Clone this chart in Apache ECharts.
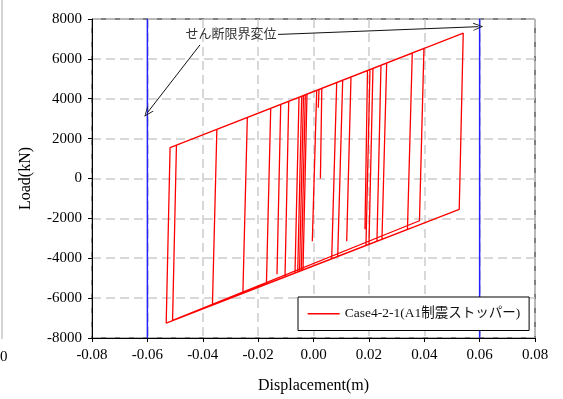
<!DOCTYPE html>
<html>
<head>
<meta charset="utf-8">
<script src="https://cdn.jsdelivr.net/npm/echarts@6/dist/echarts.min.js"></script>
<style>html,body{margin:0;padding:0;background:#fff}#c{width:563px;height:399px}</style>
</head>
<body>
<div id="c"></div>
<script>
// Hysteresis path (displacement m, load kN)
const dispX = [
  -0.00668, -0.00523, 0.00116, -0.00043, 0.00116, 0.00199, 0.00173, 0.00199, 0.00838, 0.00657,
  -0.00570, -0.00426, 0.01054, 0.00874, -0.00505, -0.00361, 0.00838, 0.00657, -0.01029, -0.00895,
  0.02437, 0.02292, -0.0255, -0.0239, 0.05408, 0.05264, -0.0532, -0.0518, 0.03989, 0.03827,
  -0.0509, -0.0495, 0.03567, 0.03394, -0.0365, -0.0349, 0.02643, 0.02473, -0.0170, -0.01545,
  -0.01184, -0.01318, -0.01184, 0.0195, 0.0186, 0.0195, 0.02148, 0.02004, -0.00379, -0.00235,
  0.01354, 0.01199, 0.01354, 0.0204, 0.01895, -0.0044, -0.00296, 0.0030, 0.0025
];
const loadY = [
  -4740, 4075, 4422, -3150, 4422, 4467, 3550, 4467, 4813, -4027,
  -4689, 4128, 4930, -3910, -4653, 4163, 4813, -4027, -4935, 3873,
  5680, -3146, -5750, 3060, 7292, -1545, -7250, 1550, 6522, -2120,
  -7120, 1680, 6293, -2553, -6350, 2460, 5792, -3049, -5296, 3521,
  3717, -4800, 3717, 5416, -2550, 5416, 5524, -3301, -4585, 4232,
  5093, -3150, 5093, 5465, -3360, -4618, 4199, 4522, 0
];
const limitDisp = [-0.06, 0.06];
const limitLoadRange = [-8000, 8000];
const xTicks = { min: -0.08, max: 0.08, interval: 0.02 };
const yTicks = { min: -8000, max: 8000, interval: 2000 };
const seriesName = 'Case4-2-1(A1制震ストッパー)';
const noteText = 'せん断限界変位';
const notePos = [-0.0298, 7200];
const arrowLeft = [[-0.041, 6700], [-0.06, 3300]];
const arrowRight = [[-0.0128, 7225], [0.0595, 7615]];

const serif = "'Liberation Serif','Times New Roman','Noto Sans CJK JP',serif";
const chevron = 'path://M5,0 L10,10 L9,10 L5,2 L1,10 L0,10 Z';

const chart = echarts.init(document.getElementById('c'), null, { renderer: 'canvas' });
const hyst = dispX.map((x, i) => [x, loadY[i]]);

chart.setOption({
  animation: false,
  backgroundColor: '#fff',
  grid: { left: 92, top: 19, width: 443, height: 320, show: true, borderColor: '#000', borderWidth: 1, backgroundColor: 'transparent' },
  xAxis: {
    type: 'value', min: xTicks.min, max: xTicks.max, interval: xTicks.interval,
    name: 'Displacement(m)', nameLocation: 'middle', nameGap: 40,
    nameTextStyle: { fontFamily: serif, fontSize: 16, color: '#000' },
    axisLine: { show: true, onZero: false, lineStyle: { color: '#000', width: 1 } },
    axisTick: { show: true, length: 4, lineStyle: { color: '#000' } },
    axisLabel: { margin: 10, fontFamily: serif, fontSize: 15, color: '#000', formatter: v => v.toFixed(2) },
    splitLine: { show: true, lineStyle: { color: '#cccccc', width: 1.5, type: [9, 5] } }
  },
  yAxis: {
    type: 'value', min: yTicks.min, max: yTicks.max, interval: yTicks.interval,
    name: 'Load(kN)', nameLocation: 'middle', nameGap: 58,
    nameTextStyle: { fontFamily: serif, fontSize: 16, color: '#000' },
    axisLine: { show: true, onZero: false, lineStyle: { color: '#000', width: 1 } },
    axisTick: { show: true, length: 4, lineStyle: { color: '#000' } },
    axisLabel: { margin: 10, fontFamily: serif, fontSize: 15, color: '#000', formatter: v => String(Math.round(v)) },
    splitLine: { show: true, lineStyle: { color: '#cccccc', width: 1.5, type: [9, 5] } }
  },
  legend: {
    data: [seriesName], left: 298, top: 297, orient: 'horizontal',
    padding: [10, 9], itemWidth: 32, itemHeight: 14, itemGap: 8,
    backgroundColor: '#fff', borderColor: '#000', borderWidth: 1,
    itemStyle: { opacity: 0 },
    lineStyle: { color: '#ff0000', width: 1.3, opacity: 1 },
    textStyle: { fontFamily: serif, fontSize: 13.5, color: '#111' }
  },
  series: [
    {
      name: 'limitL', type: 'line', symbol: 'none', silent: true, z: 3,
      data: [[limitDisp[0], limitLoadRange[0]], [limitDisp[0], limitLoadRange[1]]],
      lineStyle: { color: '#2222ff', width: 1.5 }
    },
    {
      name: 'limitR', type: 'line', symbol: 'none', silent: true, z: 3,
      data: [[limitDisp[1], limitLoadRange[0]], [limitDisp[1], limitLoadRange[1]]],
      lineStyle: { color: '#2222ff', width: 1.5 }
    },
    {
      name: seriesName, type: 'line', symbol: 'none', showSymbol: false, z: 4,
      data: hyst, itemStyle: { color: '#ff0000' },
      lineStyle: { color: '#ff0000', width: 1.3 },
      markPoint: {
        silent: true, symbol: 'circle', symbolSize: 1, itemStyle: { color: 'rgba(0,0,0,0)' },
        label: { show: true, position: 'inside', formatter: noteText, fontFamily: serif, fontSize: 13, color: '#333' },
        data: [{ coord: notePos }]
      },
      markLine: {
        silent: true, animation: false,
        symbol: ['none', chevron], symbolSize: [8, 10],
        label: { show: false },
        lineStyle: { color: '#111', width: 1, type: 'solid' },
        data: [
          [{ coord: arrowLeft[0] }, { coord: arrowLeft[1] }],
          [{ coord: arrowRight[0] }, { coord: arrowRight[1] }]
        ]
      }
    }
  ],
  graphic: [
    { type: 'line', shape: { x1: 2, y1: 0, x2: 2, y2: 339 }, style: { stroke: '#aaa', lineWidth: 1 } },
    { type: 'text', left: 0, top: 350, style: { text: '0', font: "15px 'Liberation Serif'", fill: '#000' } }
  ]
});
</script>
</body>
</html>
